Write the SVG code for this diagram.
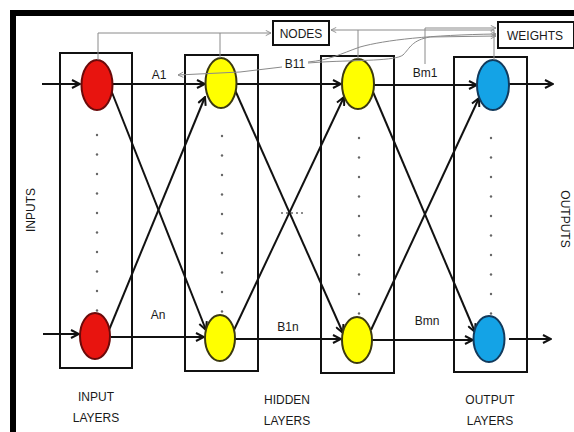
<svg xmlns="http://www.w3.org/2000/svg" width="574" height="432" viewBox="0 0 574 432">
  <style>
    .lbl { font-family: "Liberation Sans", Arial, sans-serif; font-size: 12px; fill: #1a1a1a; }
    .box { fill: none; stroke: #111; stroke-width: 2; }
    .tag { fill: #fff; stroke: #111; stroke-width: 2; }
    .wire { fill: none; stroke: #111; stroke-width: 2; marker-end: url(#ah); }
    .thin { fill: none; stroke: #8a8a8a; stroke-width: 1; }
    .dot { fill: #666; }
    .red { fill: #e8140f; stroke: #6b0a0a; stroke-width: 2; }
    .yel { fill: #ffff00; stroke: #3c3a10; stroke-width: 2; }
    .blu { fill: #14a3e6; stroke: #123a5c; stroke-width: 2; }
  </style>
  <defs>
    <marker id="ah" viewBox="0 0 10 10" refX="9" refY="5" markerWidth="10" markerHeight="10" markerUnits="userSpaceOnUse" orient="auto">
      <path d="M1,1 L9,5 L1,9" fill="none" stroke="#111" stroke-width="2"/>
    </marker>
    <marker id="gh" viewBox="0 0 8 8" refX="7" refY="4" markerWidth="7" markerHeight="7" markerUnits="userSpaceOnUse" orient="auto-start-reverse">
      <path d="M1,1 L7,4 L1,7" fill="none" stroke="#8a8a8a" stroke-width="1"/>
    </marker>
  </defs>

  <rect width="574" height="432" fill="#fff"/>
  <!-- outer frame (top and left edges visible) -->
  <rect x="13" y="13" width="620" height="500" fill="none" stroke="#000" stroke-width="6"/>

  <!-- layer boxes -->
  <g id="layer-input"><rect class="box" x="60" y="53" width="72" height="315"/></g>
  <g id="layer-hidden1"><rect class="box" x="185" y="55" width="73" height="316"/></g>
  <g id="layer-hidden2"><rect class="box" x="321" y="56" width="73" height="317"/></g>
  <g id="layer-output"><rect class="box" x="454" y="57" width="73" height="315"/></g>

  <!-- ellipsis dots inside each layer -->
  <g id="dots" class="dot">
    <circle cx="97" cy="135" r="1.2"/><circle cx="97" cy="154.5" r="1.2"/><circle cx="97" cy="174" r="1.2"/><circle cx="97" cy="193.5" r="1.2"/><circle cx="97" cy="213" r="1.2"/><circle cx="97" cy="232.5" r="1.2"/><circle cx="97" cy="252" r="1.2"/><circle cx="97" cy="271.5" r="1.2"/><circle cx="97" cy="291" r="1.2"/><circle cx="97" cy="310.5" r="1.2"/>
    <circle cx="222" cy="136" r="1.2"/><circle cx="222" cy="155.5" r="1.2"/><circle cx="222" cy="175" r="1.2"/><circle cx="222" cy="194.5" r="1.2"/><circle cx="222" cy="214" r="1.2"/><circle cx="222" cy="233.5" r="1.2"/><circle cx="222" cy="253" r="1.2"/><circle cx="222" cy="272.5" r="1.2"/><circle cx="222" cy="292" r="1.2"/><circle cx="222" cy="311.5" r="1.2"/>
    <circle cx="359" cy="138" r="1.2"/><circle cx="359" cy="157.5" r="1.2"/><circle cx="359" cy="177" r="1.2"/><circle cx="359" cy="196.5" r="1.2"/><circle cx="359" cy="216" r="1.2"/><circle cx="359" cy="235.5" r="1.2"/><circle cx="359" cy="255" r="1.2"/><circle cx="359" cy="274.5" r="1.2"/><circle cx="359" cy="294" r="1.2"/><circle cx="359" cy="313.5" r="1.2"/>
    <circle cx="491" cy="138" r="1.2"/><circle cx="491" cy="157.5" r="1.2"/><circle cx="491" cy="177" r="1.2"/><circle cx="491" cy="196.5" r="1.2"/><circle cx="491" cy="216" r="1.2"/><circle cx="491" cy="235.5" r="1.2"/><circle cx="491" cy="255" r="1.2"/><circle cx="491" cy="274.5" r="1.2"/><circle cx="491" cy="294" r="1.2"/><circle cx="491" cy="313.5" r="1.2"/>
    <circle cx="282" cy="213" r="1"/><circle cx="287" cy="213" r="1"/><circle cx="292" cy="213" r="1"/><circle cx="297" cy="213" r="1"/><circle cx="302" cy="213" r="1"/>
  </g>

  <!-- black weighted connections -->
  <g id="connectors">
    <path class="wire" d="M42,84 H80"/>
    <path class="wire" d="M113,84 H205"/>
    <path class="wire" d="M237,84 H341"/>
    <path class="wire" d="M374,85 H477"/>
    <path class="wire" d="M509,84 H553"/>
    <path class="wire" d="M43,334 H79"/>
    <path class="wire" d="M111,337 H204"/>
    <path class="wire" d="M235,339 H341"/>
    <path class="wire" d="M372,340 H473"/>
    <path class="wire" d="M509,339 H551"/>
    <path class="wire" d="M111,90 L206,330"/>
    <path class="wire" d="M109,330 L205,97"/>
    <path class="wire" d="M235,90 L343,333"/>
    <path class="wire" d="M234,330 L344,97"/>
    <path class="wire" d="M373,92 L475,332"/>
    <path class="wire" d="M371,330 L479,98"/>
  </g>

  <!-- neurons -->
  <g id="n-in-1"><ellipse class="red" cx="97" cy="85" rx="15.5" ry="25"/></g>
  <g id="n-in-n"><ellipse class="red" cx="95" cy="336" rx="15" ry="23"/></g>
  <g id="n-h1-1"><ellipse class="yel" cx="221" cy="83" rx="15.5" ry="25"/></g>
  <g id="n-h1-n"><ellipse class="yel" cx="220" cy="338" rx="15" ry="23"/></g>
  <g id="n-h2-1"><ellipse class="yel" cx="358" cy="84" rx="16" ry="25"/></g>
  <g id="n-h2-n"><ellipse class="yel" cx="357" cy="340" rx="15" ry="23"/></g>
  <g id="n-out-1"><ellipse class="blu" cx="493" cy="85" rx="16" ry="25"/></g>
  <g id="n-out-n"><ellipse class="blu" cx="489" cy="339" rx="15.5" ry="23"/></g>

  <!-- callout tags -->
  <g id="nodes-tag">
    <rect class="tag" x="273" y="21" width="56" height="24"/>
    <text class="lbl" x="301" y="37.5" text-anchor="middle">NODES</text>
  </g>
  <g id="weights-tag">
    <rect class="tag" x="498" y="22" width="76" height="26"/>
    <text class="lbl" x="535" y="39.5" text-anchor="middle" font-size="13">WEIGHTS</text>
  </g>

  <!-- grey callout leaders -->
  <g id="callouts">
    <path class="thin" d="M98,60 V33 H271" marker-end="url(#gh)"/>
    <path class="thin" d="M220,58 V33"/>
    <path class="thin" d="M494,60 V30 H331" marker-end="url(#gh)"/>
    <path class="thin" d="M358,59 V30"/>
    <path class="thin" d="M425,64 V28 H496" marker-end="url(#gh)"/>
    <path class="thin" d="M282,67 L240,72 L178,75" marker-end="url(#gh)"/>
    <path class="thin" d="M308,63 L322,62 C360,60 395,61 403,55 C410,48 412,40 430,37 L496,36" marker-end="url(#gh)"/>
    <path class="thin" d="M308,62 C330,60 340,54 360,47 C385,40 430,35 496,34" marker-end="url(#gh)"/>
  </g>

  <!-- weight and layer labels -->
  <g id="labels">
    <text class="lbl" x="159" y="79" text-anchor="middle">A1</text>
    <text class="lbl" x="295" y="67.5" text-anchor="middle">B11</text>
    <text class="lbl" x="425" y="77" text-anchor="middle">Bm1</text>
    <text class="lbl" x="158" y="319" text-anchor="middle">An</text>
    <text class="lbl" x="288" y="331" text-anchor="middle">B1n</text>
    <text class="lbl" x="427" y="325" text-anchor="middle">Bmn</text>
    <text class="lbl" transform="translate(35,210) rotate(-90)" text-anchor="middle">INPUTS</text>
    <text class="lbl" transform="translate(561,219) rotate(90)" text-anchor="middle">OUTPUTS</text>
    <text class="lbl" x="96" y="401" text-anchor="middle">INPUT</text>
    <text class="lbl" x="96" y="422" text-anchor="middle">LAYERS</text>
    <text class="lbl" x="287" y="404" text-anchor="middle">HIDDEN</text>
    <text class="lbl" x="287" y="425" text-anchor="middle">LAYERS</text>
    <text class="lbl" x="490" y="404" text-anchor="middle">OUTPUT</text>
    <text class="lbl" x="490" y="425" text-anchor="middle">LAYERS</text>
  </g>
</svg>
